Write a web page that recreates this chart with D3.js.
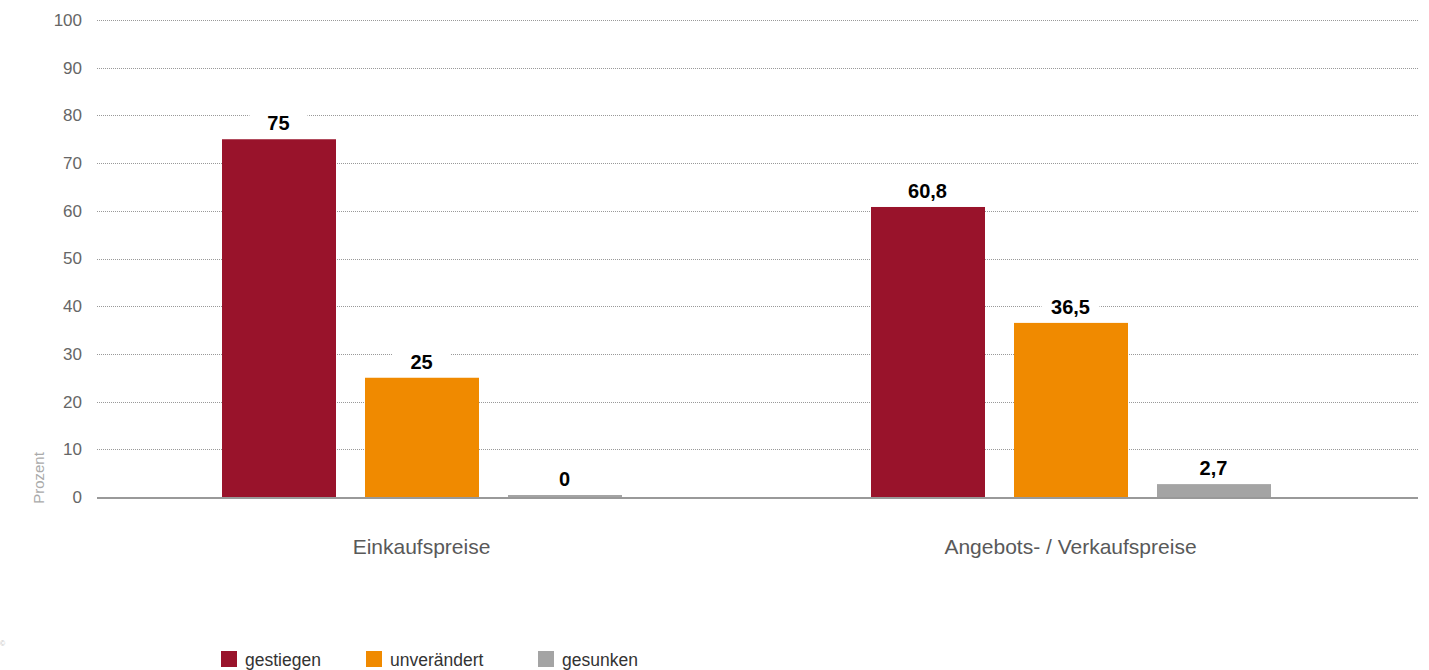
<!DOCTYPE html>
<html lang="de">
	<head>
		<meta charset="UTF-8" />
		<title>Preise</title>
		<script src="https://d3js.org/d3.v7.min.js"></script>
		<style>
			body {
				margin: 0;
				background: #fff;
			}
			svg text {
				font-family: "Liberation Sans", Arial, sans-serif;
			}
		</style>
	</head>
	<body>
		<svg id="chart"></svg>

		<script>
			// Data
			const CATEGORIES = ["Einkaufspreise", "Angebots- / Verkaufspreise"];
			const SERIES = ["gestiegen", "unverändert", "gesunken"];
			const VALUES = {
				gestiegen: [75, 60.8],
				"unverändert": [25, 36.5],
				gesunken: [0, 2.7],
			};
			const Y_TICKS = [0, 10, 20, 30, 40, 50, 60, 70, 80, 90, 100];
			const COLORS = ["#99132b", "#f08a00", "#a4a4a4"];

			// Layout
			const WIDTH = 1429;
			const HEIGHT = 670;
			const PLOT = { left: 97, right: 1418, top: 20, bottom: 497 };

			const svg = d3.select("#chart").attr("width", WIDTH).attr("height", HEIGHT);

			// Scales
			const x0 = d3.scaleBand().domain(CATEGORIES).range([97, 1395]);
			const x1 = d3
				.scaleBand()
				.domain(SERIES)
				.range([(x0.bandwidth() - 400) / 2, (x0.bandwidth() + 400) / 2])
				.paddingInner(0.2028)
				.paddingOuter(0);
			const y = d3.scaleLinear().domain([0, 100]).range([PLOT.bottom, PLOT.top]);
			const color = d3.scaleOrdinal().domain(SERIES).range(COLORS);

			// Gridlines
			svg
				.append("g")
				.selectAll("line")
				.data(Y_TICKS.filter((d) => d > 0))
				.enter()
				.append("line")
				.attr("x1", PLOT.left)
				.attr("x2", PLOT.right)
				.attr("y1", (d) => Math.round(y(d)) + 0.5)
				.attr("y2", (d) => Math.round(y(d)) + 0.5)
				.attr("stroke", "#999")
				.attr("stroke-width", 1)
				.attr("stroke-dasharray", "1,1");

			// Y axis labels
			const yAxis = svg
				.append("g")
				.attr("transform", `translate(${PLOT.left - 15}, 0)`)
				.call(d3.axisLeft(y).tickValues(Y_TICKS).tickSize(0).tickPadding(0));
			yAxis.select(".domain").remove();
			yAxis
				.selectAll("text")
				.attr("font-size", 17)
				.attr("fill", "#666");

			svg
				.append("text")
				.attr("transform", "translate(44, 478) rotate(-90)")
				.attr("text-anchor", "middle")
				.attr("font-size", 15)
				.attr("fill", "#aaa")
				.text("Prozent");

			// Bars
			const rows = SERIES.flatMap((s) =>
				CATEGORIES.map((c, i) => ({ series: s, category: c, value: VALUES[s][i] }))
			);

			svg
				.append("g")
				.selectAll(".bar")
				.data(rows)
				.enter()
				.append("rect")
				.classed("bar", true)
				.attr("x", (d) => Math.round(x0(d.category) + x1(d.series)))
				.attr("width", Math.round(x1.bandwidth()))
				.attr("y", (d) => Math.min(y(d.value), PLOT.bottom - 2))
				.attr("height", (d) => Math.max(PLOT.bottom - y(d.value), 2))
				.attr("fill", (d) => color(d.series));

			// Baseline
			svg
				.append("line")
				.attr("x1", PLOT.left)
				.attr("x2", PLOT.right)
				.attr("y1", PLOT.bottom + 1)
				.attr("y2", PLOT.bottom + 1)
				.attr("stroke", "#999")
				.attr("stroke-width", 2);

			// Value labels
			const fmt = (v) => String(v).replace(".", ",");
			const labels = svg
				.selectAll(".label")
				.data(rows)
				.enter()
				.append("g")
				.classed("label", true)
				.attr(
					"transform",
					(d) =>
						`translate(${x0(d.category) + x1(d.series) + x1.bandwidth() / 2}, ${
							Math.min(y(d.value), PLOT.bottom - 2) - 9
						})`
				);
			labels
				.append("rect")
				.attr("x", -29)
				.attr("y", -22)
				.attr("width", 58)
				.attr("height", 28)
				.attr("fill", "#fff");
			labels
				.append("text")
				.attr("text-anchor", "middle")
				.attr("font-size", 20)
				.attr("font-weight", "bold")
				.attr("fill", "#000")
				.text((d) => fmt(d.value));

			// Category labels
			svg
				.selectAll(".cat")
				.data(CATEGORIES)
				.enter()
				.append("text")
				.classed("cat", true)
				.attr("x", (d) => x0(d) + x0.bandwidth() / 2)
				.attr("y", 554)
				.attr("text-anchor", "middle")
				.attr("font-size", 21)
				.attr("fill", "#595959")
				.text((d) => d);

			// Legend
			const LEGEND_X = [221, 366, 538];
			const legend = svg
				.selectAll(".legend")
				.data(SERIES)
				.enter()
				.append("g")
				.classed("legend", true)
				.attr("transform", (d, i) => `translate(${LEGEND_X[i]}, 651)`);
			legend
				.append("rect")
				.attr("width", 16)
				.attr("height", 16)
				.attr("fill", (d) => color(d));
			legend
				.append("text")
				.attr("x", 24)
				.attr("y", 15)
				.attr("font-size", 17.5)
				.attr("fill", "#333")
				.text((d) => d);

			svg
				.append("text")
				.attr("x", 0)
				.attr("y", 646)
				.attr("font-size", 7)
				.attr("fill", "#bbb")
				.text("©");
		</script>
	</body>
</html>
